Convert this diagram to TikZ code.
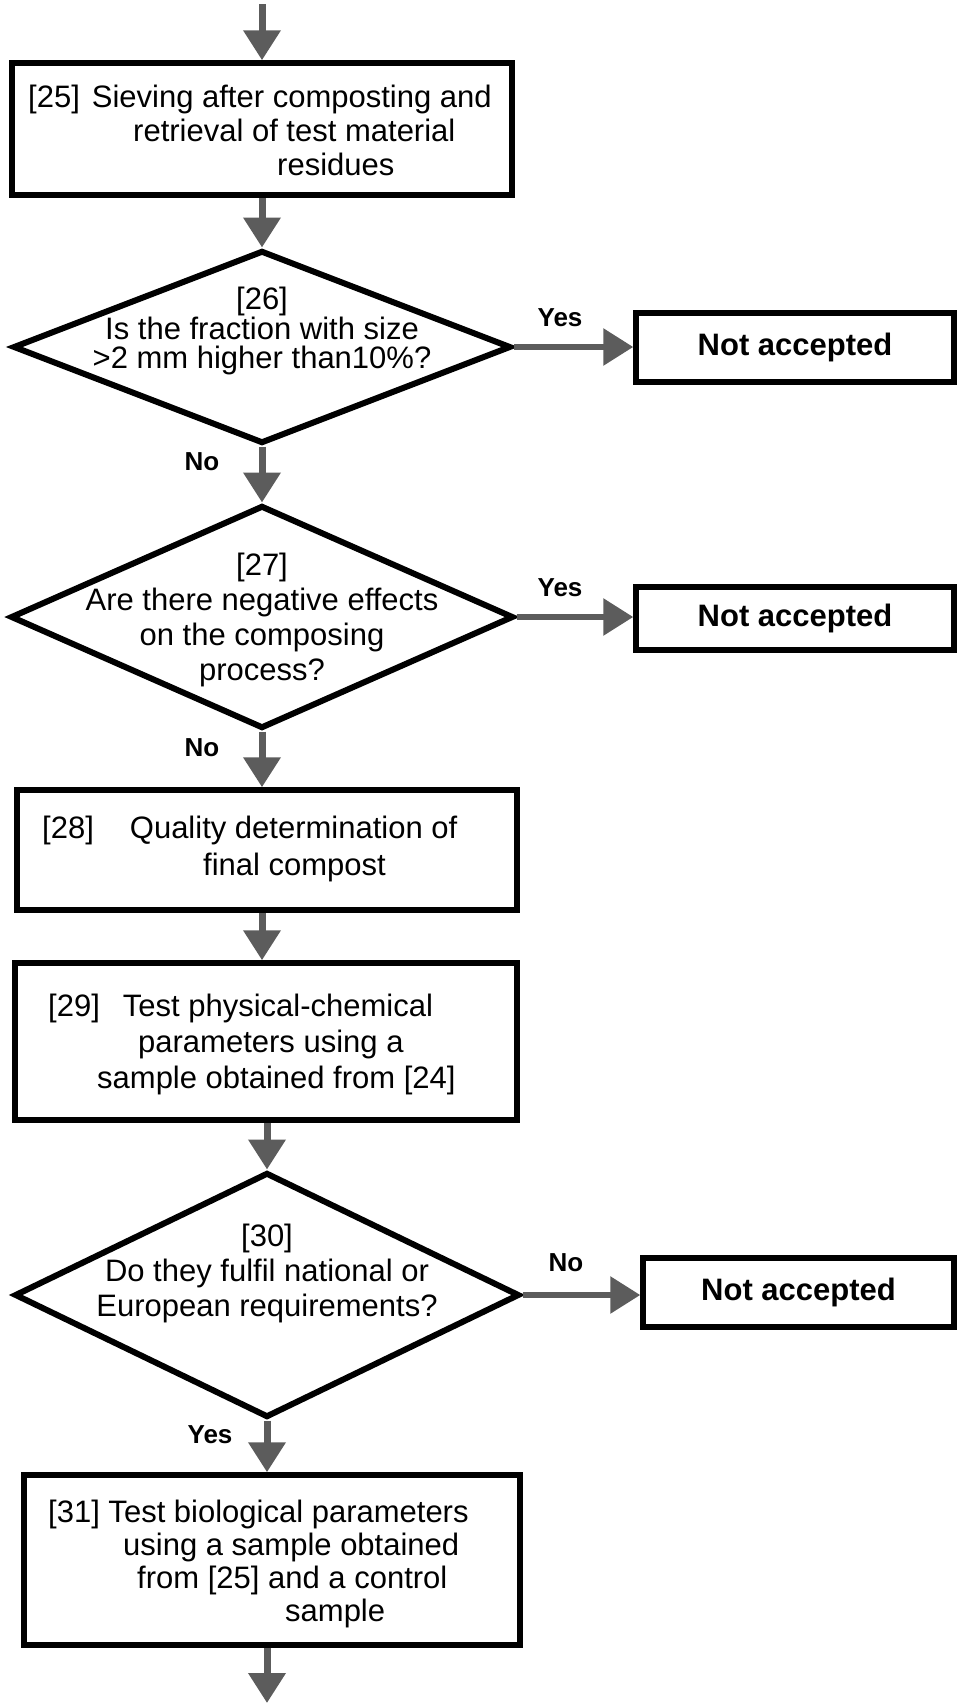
\documentclass[tikz,border=0pt]{standalone}
\usepackage{fontspec}
\setmainfont{Liberation Sans}
\usetikzlibrary{arrows.meta,shapes.geometric}
\definecolor{arrgray}{rgb}{0.36,0.36,0.36}
\begin{document}
\begin{tikzpicture}[x=1pt,y=-1pt,
  box/.style={draw=black,line width=5.5pt,rectangle,inner sep=0pt},
  dia/.style={draw=black,line width=6pt,diamond,inner sep=0pt},
  txt/.style={inner sep=0pt,align=left,anchor=west,font=\fontsize{31}{34}\selectfont},
  dtxt/.style={inner sep=0pt,align=center,font=\fontsize{31}{35}\selectfont},
  lbl/.style={inner sep=0pt,font=\fontsize{26}{28}\selectfont\bfseries},
  natxt/.style={font=\fontsize{31}{34}\selectfont\bfseries},
  flow/.style={color=arrgray,line width=7pt,-{Triangle[width=36pt,length=30pt]}}
]
\useasboundingbox (0,0) rectangle (956,1703);

% boxes
\node[box,minimum width=500pt,minimum height=132pt] (b25) at (262,129) {};
\node[txt] (t25) at (28,130) {[25]\hspace{12pt}Sieving after composting and\\\hspace*{105pt}retrieval of test material\\\hspace*{249pt}residues};

\node[dia,minimum width=498pt,minimum height=193pt] (d26) at (262,347) {};
\node[dtxt,font=\fontsize{31}{29.5}\selectfont] (t26) at (262,331) {[26]\\Is the fraction with size\\>2 mm higher than10\%?};

\node[dia,minimum width=503pt,minimum height=223pt] (d27) at (262,617) {};
\node[dtxt] (t27) at (262,620) {[27]\\Are there negative effects\\on the composing\\process?};

\node[box,minimum width=500pt,minimum height=120pt] (b28) at (267,850) {};
\node[txt,font=\fontsize{31}{37}\selectfont] (t28) at (42,849) {[28]\hspace*{36pt}Quality determination of\\\hspace*{161pt}final compost};

\node[box,minimum width=502pt,minimum height=157pt] (b29) at (266,1041.5) {};
\node[txt,font=\fontsize{31}{36}\selectfont] (t29) at (48,1044) {[29]\hspace*{23pt}Test physical-chemical\\\hspace*{90pt}parameters using a\\\hspace*{49pt}sample obtained from [24]};

\node[dia,minimum width=505pt,minimum height=245pt] (d30) at (267,1295) {};
\node[dtxt] (t30) at (267,1273) {[30]\\Do they fulfil national or\\European requirements?};

\node[box,minimum width=496pt,minimum height=170pt] (b31) at (272,1560) {};
\node[txt,font=\fontsize{31}{33}\selectfont] (t31) at (48,1564) {[31] Test biological parameters\\\hspace*{75pt}using a sample obtained\\\hspace*{89pt}from [25] and a control\\\hspace*{237pt}sample};

% not accepted boxes
\node[box,natxt,minimum width=318pt,minimum height=69pt] (na1) at (795,347.5) {Not accepted};
\node[box,natxt,minimum width=318pt,minimum height=63pt] (na2) at (795,618.5) {Not accepted};
\node[box,natxt,minimum width=311pt,minimum height=69pt] (na3) at (798.5,1292.5) {Not accepted};

% labels
\node[lbl] (l26y) at (560,318) {Yes};
\node[lbl] (l26n) at (202,462) {No};
\node[lbl] (l27y) at (560,588) {Yes};
\node[lbl] (l27n) at (202,748) {No};
\node[lbl] (l30n) at (566,1263) {No};
\node[lbl] (l30y) at (210,1435) {Yes};

% connectors
\coordinate (start) at (262,4);
\coordinate (end) at (267,1703);
\draw[flow] (start) -- (b25.north);
\draw[flow] (b25.south) -- (d26.north);
\draw[flow] (d26.south) -- (d27.north);
\draw[flow] (d27.south) -- (d27.south |- b28.north);
\draw[flow] (b28.south -| d27.south) -- (b29.north -| d27.south);
\draw[flow] (d30.north |- b29.south) -- (d30.north);
\draw[flow] (d30.south) -- (d30.south |- b31.north);
\draw[flow] (b31.south -| end) -- (end);

\draw[flow,line width=6pt] (d26.east) -- (d26.east -| na1.west);
\draw[flow,line width=6pt] (d27.east) -- (d27.east -| na2.west);
\draw[flow,line width=6pt] (d30.east) -- (d30.east -| na3.west);
\end{tikzpicture}
\end{document}
